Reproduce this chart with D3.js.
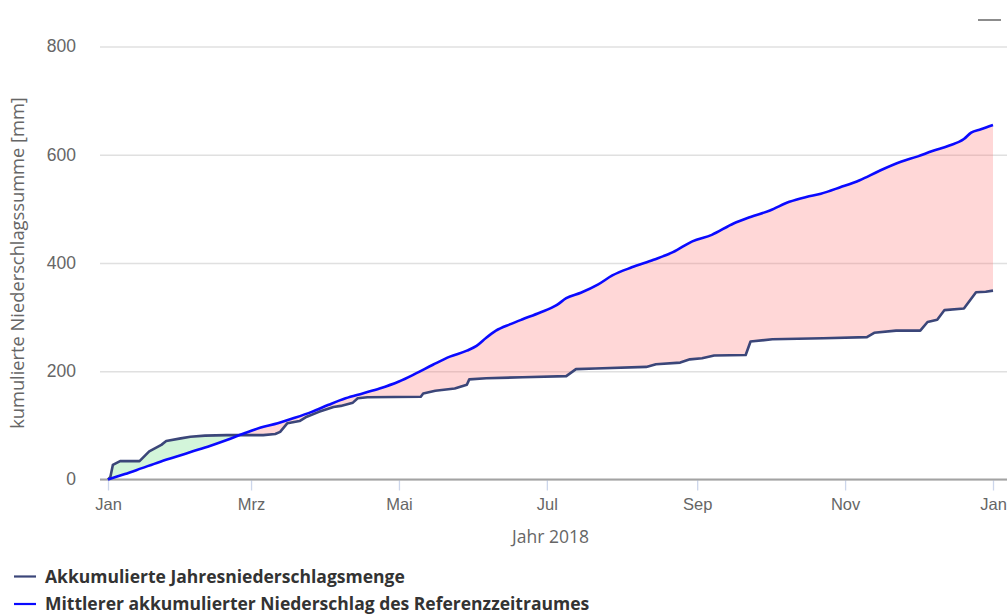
<!DOCTYPE html>
<html><head><meta charset="utf-8">
<script src="https://cdn.jsdelivr.net/npm/d3@7"></script>
<style>
html,body{margin:0;padding:0;background:#fff;}
svg{display:block;font-family:"Open Sans",sans-serif;}
</style></head>
<body><svg id="c" width="1007" height="614"></svg>
<script>
// ---- data ----
const seriesNames = ["Akkumulierte Jahresniederschlagsmenge", "Mittlerer akkumulierter Niederschlag des Referenzzeitraumes"];
// Actual 2018: day of year (0 = 1 Jan 2018) and accumulated mm
const actDays = [0,1,2,5,13,17,22,24,30,34,40,49,64,69,71,74,79,82,87,93,96,101,103,107,129,130,135,143,148,149,156,171,189,193,201,222,226,236,240,245,250,263,265,274,295,313,316,325,335,338,342,345,353,354,358,362,365];
const actVals = [0,5,27,34,34,52,64,71,76,79,81,82,82,84,88,104,108,116,125,134,136,142,150,152,153,159,164,168,175,185,187,189,191,204,205,208,213,216,222,224,229,230,255,259,261,263,271,275,275,291,295,313,316,322,346,347,349];
// Reference period mean
const refDays = [0,7,14,21,28,35,42,49,56,63,70,77,84,91,98,105,112,120,127,134,141,148,152,156,160,166,171,178,185,189,195,202,208,216,225,233,241,249,258,265,273,281,288,294,302,310,318,327,334,340,347,353,356,360,365];
const refVals = [0,10,21,32,42,52,62,73,85,96,104,114,125,138,150,159,168,181,196,212,227,238,247,262,275,287,296,308,322,335,345,360,377,392,406,420,440,452,473,485,497,513,522,528,540,553,570,587,597,607,617,629,641,647,655];
const monthTicks = [0,2,4,6,8,10,12];
const monthLabels = ["Jan","Mrz","Mai","Jul","Sep","Nov","Jan"];
const yTicks = [0,200,400,600,800];
const yTitle = "kumulierte Niederschlagssumme [mm]";
const xTitle = "Jahr 2018";

// ---- layout ----
const W = 1007, H = 614;
const svg = d3.select("#c");
const dayMs = 86400000;
const t0 = Date.UTC(2018,0,1);
const toDate = d => new Date(t0 + d*dayMs);
const x = d3.scaleUtc().domain([new Date(t0), new Date(Date.UTC(2019,0,1))]).range([108, 993]);
const y = d3.scaleLinear().domain([0,800]).range([479.5, 46.5]);
const plotL = 100, plotR = W;

const act = actDays.map((d,i)=>({date:toDate(d), v:actVals[i]}));
const ref = refDays.map((d,i)=>({date:toDate(d), v:refVals[i]}));

// gridlines + y labels
const gy = svg.append("g").attr("transform",`translate(${plotL},0)`)
  .call(d3.axisLeft(y).tickValues(yTicks).tickSize(-(plotR-plotL)).tickPadding(24).tickFormat(d3.format("d")));
gy.select(".domain").remove();
gy.selectAll(".tick line").attr("stroke","#e0e0e0").attr("stroke-width",1.3);
gy.selectAll(".tick text").attr("fill","#666").style("font-size","17.5px").attr("dy","0.3em");

// difference fills
const defs = svg.append("defs");
defs.append("clipPath").attr("id","belowRef").append("path").datum(ref)
  .attr("d", d3.area().x(d=>x(d.date)).y0(y(0)).y1(d=>y(d.v)));
defs.append("clipPath").attr("id","aboveRef").append("path").datum(ref)
  .attr("d", d3.area().x(d=>x(d.date)).y0(0).y1(d=>y(d.v)));

svg.append("path").datum(act).attr("clip-path","url(#belowRef)")
  .attr("fill","rgba(255,110,110,0.28)")
  .attr("d", d3.area().x(d=>x(d.date)).y0(0).y1(d=>y(d.v)));
svg.append("path").datum(act).attr("clip-path","url(#aboveRef)")
  .attr("fill","rgba(70,215,100,0.24)")
  .attr("d", d3.area().x(d=>x(d.date)).y0(y(0)).y1(d=>y(d.v)));

// x axis
const gx = svg.append("g").attr("transform",`translate(0,${y(0)})`)
  .call(d3.axisBottom(x).tickValues(monthTicks.map(m=>new Date(Date.UTC(2018,m,1)))).tickSize(11).tickPadding(8)
    .tickFormat((d,i)=>monthLabels[i]));
gx.select(".domain").remove();
gx.selectAll(".tick line").attr("stroke","#ccd6eb").attr("stroke-width",1.3);
gx.selectAll(".tick text").attr("fill","#666").style("font-size","16.5px");
svg.append("line").attr("x1",plotL).attr("x2",plotR).attr("y1",y(0)).attr("y2",y(0))
  .attr("stroke","#a3a3a3").attr("stroke-width",2);

// lines
svg.append("path").datum(act).attr("fill","none").attr("stroke","#3b4679").attr("stroke-width",2.6)
  .attr("stroke-linejoin","round")
  .attr("d", d3.line().x(d=>x(d.date)).y(d=>y(d.v)));
svg.append("path").datum(ref).attr("fill","none").attr("stroke","#0a0aff").attr("stroke-width",2.6)
  .attr("stroke-linejoin","round")
  .attr("d", d3.line().x(d=>x(d.date)).y(d=>y(d.v)).curve(d3.curveMonotoneX));

// titles
svg.append("text").attr("transform",`translate(24,${(y(0)+y(800))/2}) rotate(-90)`)
  .attr("text-anchor","middle").attr("fill","#666").style("font-size","18.3px").text(yTitle);
svg.append("text").attr("x",(x.range()[0]+x.range()[1])/2).attr("y",543)
  .attr("text-anchor","middle").attr("fill","#666").style("font-size","17.5px").text(xTitle);

// legend
const legColors = ["#3b4679","#0a0aff"];
const lg = svg.append("g");
seriesNames.forEach((n,i)=>{
  const yy = 576.5 + i*27.5;
  lg.append("line").attr("x1",14).attr("x2",36).attr("y1",yy).attr("y2",yy)
    .attr("stroke",legColors[i]).attr("stroke-width",2.2);
  lg.append("text").attr("x",45).attr("y",yy).attr("dy","0.35em")
    .attr("fill","#333").style("font-size","17.5px").style("font-weight","bold").text(n);
});

// export-menu dash top right
svg.append("line").attr("x1",978).attr("x2",1001).attr("y1",20).attr("y2",20)
  .attr("stroke","#666").attr("stroke-width",1.5);
</script></body></html>
